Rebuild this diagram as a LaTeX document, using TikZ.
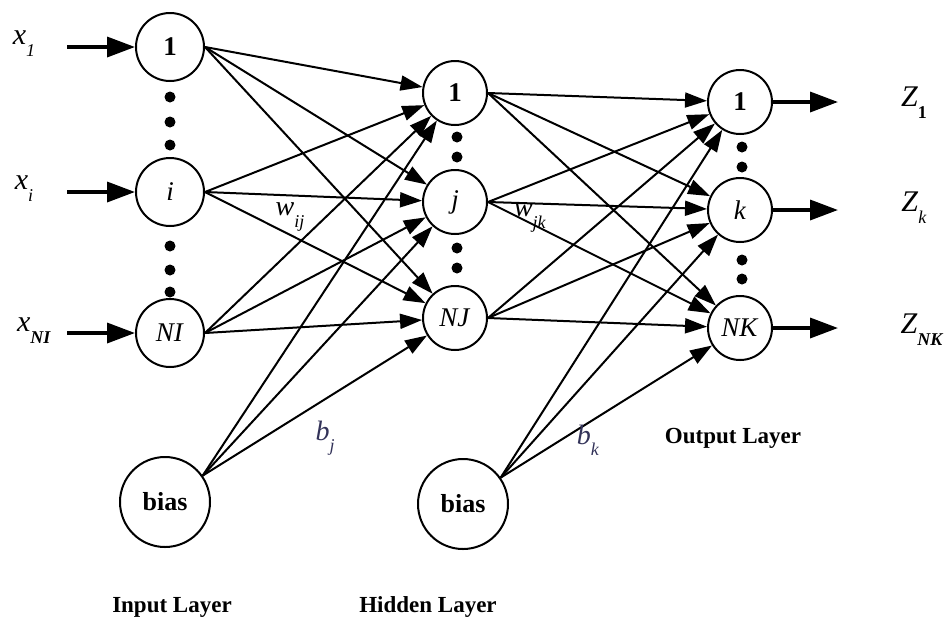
\documentclass[tikz,border=0pt]{standalone}
\usepackage{fontspec}
\setmainfont{Liberation Serif}
\usetikzlibrary{arrows.meta}
% symbol with a lowered subscript, set in text fonts
\newcommand{\symsub}[2]{#1\raisebox{-0.40em}{\fontsize{18}{18}\selectfont #2}}
\begin{document}
\begin{tikzpicture}[x=1pt,y=-1pt,
  neuron/.style={circle,draw,line width=2pt,minimum size=64pt,inner sep=0pt,
                 font=\fontsize{27}{29}\selectfont},
  inneuron/.style={neuron,minimum size=68pt},
  biasnode/.style={neuron,minimum size=90pt,font=\fontsize{26}{28}\selectfont},
  link/.style={line width=2pt,-{Triangle[length=22pt,width=15pt]}},
  io/.style={line width=3.5pt,-{Triangle[length=28pt,width=20pt]}},
  dotmark/.style={circle,fill,inner sep=0pt,minimum size=11pt},
  lbl/.style={font=\fontsize{30}{32}\selectfont},
  wlbl/.style={font=\fontsize{28}{30}\selectfont},
  blbl/.style={font=\fontsize{28}{30}\selectfont,text=black!75!blue!60!gray},
  layer/.style={font=\fontsize{23}{25}\selectfont\bfseries}]
\useasboundingbox (0,0) rectangle (952,625);

% input layer
\node[inneuron] (i1) at (170,47)  {\textbf{1}};
\node[inneuron] (ii) at (170,192) {\textit{i}};
\node[inneuron] (iN) at (170,333) {\textit{NI}};
% hidden layer
\node[neuron] (h1) at (455,93)  {\textbf{1}};
\node[neuron] (hj) at (455,202) {\textit{j}};
\node[neuron] (hN) at (455,318) {\textit{NJ}};
% output layer
\node[neuron] (o1) at (740,102) {\textbf{1}};
\node[neuron] (ok) at (740,210) {\textit{k}};
\node[neuron] (oN) at (740,328) {\textit{NK}};
% bias units
\node[biasnode] (b1) at (165,502) {\textbf{bias}};
\node[biasnode] (b2) at (463,504) {\textbf{bias}};

% ellipsis dots
\node[dotmark] (di1) at (170,97)  {};
\node[dotmark] (di2) at (170,122) {};
\node[dotmark] (di3) at (170,145) {};
\node[dotmark] (di4) at (170,246) {};
\node[dotmark] (di5) at (170,270) {};
\node[dotmark] (di6) at (170,292) {};
\node[dotmark] (dh1) at (457,137) {};
\node[dotmark] (dh2) at (457,157) {};
\node[dotmark] (dh3) at (457,248) {};
\node[dotmark] (dh4) at (457,268) {};
\node[dotmark] (do1) at (742,147) {};
\node[dotmark] (do2) at (742,167) {};
\node[dotmark] (do3) at (742,260) {};
\node[dotmark] (do4) at (742,279) {};

% inputs
\node[lbl] (lx1) at (24,44)  {\symsub{\textit{x}}{\textit{1}}};
\node[lbl] (lxi) at (24,189) {\symsub{\textit{x}}{\textit{i}}};
\node[lbl] (lxN) at (34,331) {\symsub{\textit{x}}{\textbf{\textit{NI}}}};
\coordinate (s1) at (67,47);
\coordinate (si) at (67,192);
\coordinate (sN) at (67,333);
\draw[io] (s1) -- (i1);
\draw[io] (si) -- (ii);
\draw[io] (sN) -- (iN);

% outputs
\coordinate (e1) at (838,102);
\coordinate (ek) at (838,210);
\coordinate (eN) at (838,328);
\draw[io] (o1) -- (e1);
\draw[io] (ok) -- (ek);
\draw[io] (oN) -- (eN);
\node[lbl] (z1) at (914,103) {\symsub{\textit{Z}}{\textbf{1}}};
\node[lbl] (zk) at (914,208) {\symsub{\textit{Z}}{\textit{k}}};
\node[lbl] (zN) at (922,330) {\symsub{\textit{Z}}{\textbf{\textit{NK}}}};

% weighted connections
\foreach \a in {i1,ii,iN}
  \foreach \b in {h1,hj,hN}
    \draw[link] (\a.east) -- (\b);
\foreach \a in {h1,hj,hN}
  \foreach \b in {o1,ok,oN}
    \draw[link] (\a.east) -- (\b);
\foreach \b in {h1,hj,hN}
  \draw[link] (b1.35) -- (\b);
\foreach \b in {o1,ok,oN}
  \draw[link] (b2.35) -- (\b);

% weight and bias labels
\node[wlbl] (wij) at (290,217) {\symsub{\textit{w}}{\textit{ij}}};
\node[wlbl] (wjk) at (530,218) {\symsub{\textit{w}}{\textit{jk}}};
\node[blbl] (bj) at (325,438) {\symsub{\textit{b}}{\textit{j}}};
\node[blbl] (bk) at (588,440) {\symsub{\textit{b}}{\textit{k}}};

% layer captions
\node[layer] (lin)  at (172,607) {Input Layer};
\node[layer] (lhid) at (428,607) {Hidden Layer};
\node[layer] (lout) at (733,438) {Output Layer};
\end{tikzpicture}
\end{document}
